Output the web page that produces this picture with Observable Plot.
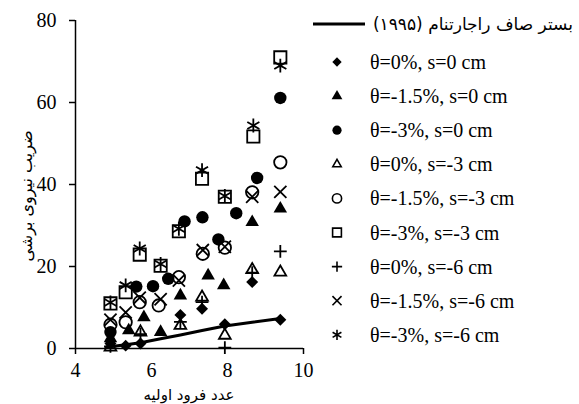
<!DOCTYPE html>
<html><head><meta charset="utf-8">
<script src="https://cdn.jsdelivr.net/npm/d3@7"></script>
<script src="https://cdn.jsdelivr.net/npm/@observablehq/plot@0.6"></script>
<style>
body{margin:0;background:#fff}
#chart{position:relative;width:579px;height:404px;overflow:hidden}
#chart svg{position:absolute;left:0;top:0}
</style>
</head><body><div id="chart"></div>
<script>
// ---- Data ----
const xTicks = [4, 6, 8, 10];
const xTickMarks = [4, 10];
const yTicks = [0, 20, 40, 60, 80];
const xTitle = "عدد فرود اولیه";
const yTitle = "ضریب نیروی برشی";
const lineLabel = "بستر صاف راجارتنام (۱۹۹۵)";

const lineX = [4.8, 5.32, 5.71, 6.24, 6.76, 7.33, 7.93, 8.65, 9.39];
const lineY = [0.3, 0.9, 1.4, 2.4, 3.3, 4.4, 5.5, 6.4, 7.3];

const seriesLabels = [
  "θ=0%, s=0 cm", "θ=-1.5%, s=0 cm", "θ=-3%, s=0 cm",
  "θ=0%, s=-3 cm", "θ=-1.5%, s=-3 cm", "θ=-3%, s=-3 cm",
  "θ=0%, s=-6 cm", "θ=-1.5%, s=-6 cm", "θ=-3%, s=-6 cm"
];
const seriesSymbols = ["diamond2","triangle","circle","triangle2","circle","square2","plus","times","asterisk"];
const seriesFilled = [true,true,true,false,false,false,false,false,false];

const s1x = [4.92, 5.32, 5.71, 6.76, 7.33, 7.93, 8.65, 9.39];
const s1y = [1.2, 0.7, 1.2, 8.2, 9.7, 5.9, 16.2, 7.0];
const s2x = [4.92, 5.40, 5.80, 6.24, 6.76, 7.49, 7.90, 8.65, 9.39];
const s2y = [2.5, 4.4, 7.6, 4.0, 12.9, 17.8, 15.4, 30.8, 34.1];
const s3x = [4.92, 5.60, 6.04, 6.44, 6.87, 7.34, 7.76, 8.23, 8.78, 9.39];
const s3y = [4.0, 15.1, 15.2, 17.0, 31.0, 32.0, 26.6, 33.0, 41.6, 61.1];
const s4x = [4.92, 5.71, 6.76, 7.33, 7.93, 8.65, 9.39];
const s4y = [0.3, 4.0, 5.6, 12.5, 3.2, 19.2, 18.6];
const s5x = [4.92, 5.32, 5.69, 6.19, 6.72, 7.35, 7.93, 8.65, 9.39];
const s5y = [5.8, 6.4, 11.3, 10.5, 17.4, 23.1, 24.6, 38.1, 45.4];
const s6x = [4.92, 5.32, 5.69, 6.24, 6.72, 7.33, 7.93, 8.68, 9.39];
const s6y = [11.0, 13.7, 22.9, 20.2, 28.6, 41.4, 37.0, 51.7, 71.0];
const s7x = [4.92, 5.71, 6.76, 7.33, 7.93, 8.65, 9.39];
const s7y = [0.5, 3.5, 6.5, 11.3, 0.2, 18.5, 23.7];
const s8x = [4.92, 5.32, 5.69, 6.24, 6.72, 7.35, 7.93, 8.65, 9.39];
const s8y = [7.0, 8.8, 12.4, 12.0, 16.6, 24.0, 24.8, 37.0, 38.2];
const s9x = [4.92, 5.32, 5.69, 6.24, 6.72, 7.33, 7.93, 8.68, 9.39];
const s9y = [11.2, 15.4, 24.4, 20.6, 29.2, 43.5, 37.2, 54.4, 69.0];

const seriesX = [s1x,s2x,s3x,s4x,s5x,s6x,s7x,s8x,s9x];
const seriesY = [s1y,s2y,s3y,s4y,s5y,s6y,s7y,s8y,s9y];

// ---- Styles ----
const plotR = {diamond2:5.4, triangle:5.0, circle:6.2, triangle2:5.6, square2:7.8, plus:4.2, times:5.6, asterisk:6.6};
const SERIF = "Liberation Serif, DejaVu Serif, Times New Roman, serif";
const ARABIC = "DejaVu Sans, sans-serif";

const lineData = lineX.map((x, i) => ({x, y: lineY[i]}));
const dotMarks = seriesX.map((xs, k) => {
  const data = xs.map((x, i) => ({x, y: seriesY[k][i]}));
  const sym = seriesSymbols[k];
  const filled = seriesFilled[k];
  return Plot.dot(data, {
    x: "x", y: "y", symbol: () => sym, r: plotR[sym],
    fill: filled ? "black" : "none",
    stroke: filled ? "none" : "black",
    strokeWidth: 1.8
  });
});

const plot = Plot.plot({
  width: 579, height: 404,
  marginLeft: 75, marginRight: 276, marginTop: 20, marginBottom: 56,
  style: {fontFamily: SERIF, fontSize: "20px", color: "black", background: "transparent"},
  x: {domain: [4, 10]},
  y: {domain: [0, 80]},
  symbol: {type: "identity"},
  marks: [
    Plot.axisX({ticks: xTicks, tickFormat: d => String(d), tickSize: 0, tickPadding: 14, label: null, fontSize: 20, fontFamily: SERIF}),
    Plot.axisX({ticks: xTickMarks, tickFormat: () => "", tickSize: 6, label: null, strokeWidth: 1.5}),
    Plot.axisY({ticks: yTicks, tickFormat: d => String(d), tickSize: 6, tickPadding: 13, label: null, fontSize: 20, fontFamily: SERIF, strokeWidth: 1.5}),
    Plot.ruleX([4], {y1: 0, y2: 80, stroke: "black", strokeWidth: 1.5}),
    Plot.ruleY([0], {x1: 4, x2: 10, stroke: "black", strokeWidth: 1.5}),
    Plot.line(lineData, {x: "x", y: "y", stroke: "black", strokeWidth: 3}),
    ...dotMarks
  ]
});
document.getElementById("chart").appendChild(plot);

// ---- Titles & legend ----
const leg = d3.select("#chart").append("svg")
  .attr("width", 579).attr("height", 404)
  .style("pointer-events", "none");
leg.append("text").attr("x", 189).attr("y", 395).attr("dy", "0.35em")
  .attr("direction", "rtl").attr("text-anchor", "middle")
  .style("font-family", ARABIC).style("font-size", "15px").text(xTitle);
leg.append("text").attr("transform", "translate(26,196) rotate(-90)").attr("dy", "0.35em")
  .attr("direction", "rtl").attr("text-anchor", "middle")
  .style("font-family", ARABIC).style("font-size", "16px").text(yTitle);

leg.append("line").attr("x1", 313).attr("x2", 365).attr("y1", 24).attr("y2", 24)
  .attr("stroke", "black").attr("stroke-width", 3);
leg.append("text").attr("x", 573).attr("y", 24).attr("dy", "0.35em")
  .attr("direction", "rtl").attr("text-anchor", "start")
  .style("font-family", ARABIC).style("font-size", "17px").text(lineLabel);

const symMap = {diamond2: d3.symbolDiamond2, triangle: d3.symbolTriangle, circle: d3.symbolCircle,
  triangle2: d3.symbolTriangle2, square2: d3.symbolSquare2, plus: d3.symbolPlus,
  times: d3.symbolTimes, asterisk: d3.symbolAsterisk};
const legR = {diamond2:4.2, triangle:4.0, circle:4.6, triangle2:4.0, square2:5.6, plus:3.4, times:4.2, asterisk:4.8};
seriesLabels.forEach((lab, k) => {
  const y = 62 + 34.1 * k;
  const sym = seriesSymbols[k];
  const filled = seriesFilled[k];
  const size = Math.PI * legR[sym] * legR[sym];
  const path = d3.symbol(symMap[sym], size)();
  leg.append("path").attr("d", path).attr("transform", `translate(337,${y})`)
    .attr("fill", filled ? "black" : "none").attr("stroke", filled ? "none" : "black")
    .attr("stroke-width", 1.6);
  leg.append("text").attr("x", 370).attr("y", y).attr("dy", "0.35em")
    .style("font-family", SERIF).style("font-size", "20px").text(lab);
});
</script>
</body></html>
